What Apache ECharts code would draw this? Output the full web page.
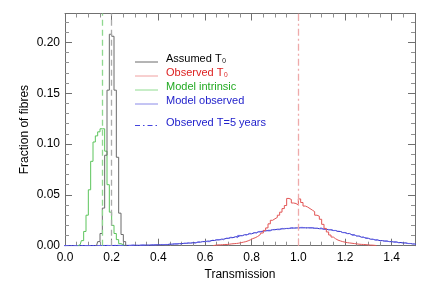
<!DOCTYPE html>
<html><head><meta charset="utf-8">
<script src="https://cdn.jsdelivr.net/npm/echarts@6/dist/echarts.min.js"></script>
<style>html,body{margin:0;padding:0;background:#fff}#c{width:436px;height:290px}</style>
</head><body><div id="c"></div>
<script>
// ---- data ----
const binW = 0.01;
const blackStart = 0.14;
const blackVals = [0.004,0.012,0.037,0.089,0.153,0.208,0.206,0.153,0.087,0.032,0.011,0.004];
const greenStart = 0.06;
const greenVals = [0.001,0.005,0.014,0.030,0.055,0.083,0.102,0.108,0.112,0.115,0.115,0.093,0.060,0.033,0.020,0.012,0.006,0.002,0.001];
const redStart = 0.64;
const redVals = [0.0005,0.0008,0.0008,0.0010,0.0012,0.0012,0.0015,0.0018,0.0020,0.0022,
  0.0025,0.0030,0.0035,0.0040,0.0048,0.0058,0.0070,0.0078,0.0090,0.0105,
  0.0125,0.0150,0.0175,0.0215,0.0250,0.0265,0.0278,0.0300,0.0330,0.0365,
  0.0395,0.0465,0.0455,0.0420,0.0415,0.0400,0.0460,0.0425,0.0390,0.0380,
  0.0365,0.0350,0.0335,0.0300,0.0290,0.0260,0.0210,0.0170,0.0135,0.0105,
  0.0085,0.0068,0.0055,0.0047,0.0040,0.0035,0.0030,0.0027,0.0024,0.0021,
  0.0018,0.0015,0.0013,0.0012,0.0010,0.0008,0.0006,0.0005,0.0003];
const blueW = 0.02;
const blueStart = 0.0;
const modelObsVals = [0.0000,0.0000,0.0000,0.0001,0.0001,0.0001,0.0001,0.0002,0.0002,0.0002,
  0.0002,0.0003,0.0003,0.0003,0.0004,0.0004,0.0005,0.0006,0.0007,0.0009,
  0.0010,0.0012,0.0015,0.0017,0.0020,0.0023,0.0026,0.0030,0.0035,0.0040,
  0.0045,0.0051,0.0057,0.0064,0.0071,0.0079,0.0088,0.0098,0.0108,0.0117,
  0.0127,0.0136,0.0145,0.0151,0.0157,0.0162,0.0166,0.0170,0.0173,0.0175,
  0.0176,0.0176,0.0175,0.0172,0.0167,0.0162,0.0156,0.0149,0.0140,0.0130,
  0.0119,0.0107,0.0095,0.0084,0.0073,0.0064,0.0056,0.0050,0.0045,0.0040,
  0.0036,0.0031,0.0027,0.0022,0.0017];
const obsT5Vals = [0.0000,0.0001,0.0000,0.0002,0.0000,0.0001,0.0002,0.0001,0.0003,0.0002,
  0.0004,0.0002,0.0004,0.0003,0.0006,0.0004,0.0007,0.0005,0.0009,0.0008,
  0.0012,0.0010,0.0016,0.0019,0.0017,0.0024,0.0028,0.0026,0.0036,0.0042,
  0.0040,0.0055,0.0060,0.0058,0.0074,0.0083,0.0080,0.0101,0.0106,0.0121,
  0.0125,0.0140,0.0150,0.0146,0.0160,0.0158,0.0171,0.0168,0.0177,0.0172,
  0.0180,0.0174,0.0178,0.0170,0.0173,0.0163,0.0160,0.0150,0.0143,0.0128,
  0.0121,0.0104,0.0097,0.0082,0.0076,0.0062,0.0058,0.0048,0.0046,0.0039,
  0.0037,0.0029,0.0028,0.0021,0.0018];
const greenDashX = 0.164;
const greyDashX = 0.20;
const redDashDotX = 1.0;
const xRange = [0, 1.5];
const yRange = [0, 0.2284];
const xTickInterval = 0.2;
const yTickInterval = 0.05;
const seriesNames = ['Assumed T\u2080','Observed T\u2080','Model intrinsic','Model observed','Observed T=5 years'];
const xTitle = 'Transmission';
const yTitle = 'Fraction of fibres';

// ---- build ----
function hist(start, w, vals){
  const d = [[start - w/2, 0]];
  vals.forEach((v,i)=>d.push([start + w*(i+0.5), v]));
  d.push([start + w*(vals.length+0.5), 0]);
  return d;
}
const FONT = 'Liberation Sans, Arial, Helvetica, sans-serif';
const C = {black:'#6a6a6a', red:'#e25555', green:'#5cc45c', blueA:'#3030c8', blueB:'#6a6ae8'};
const ch = echarts.init(document.getElementById('c'), null, {renderer:'canvas'});
const axCommon = {
  type:'value', axisLine:{show:true, onZero:false, lineStyle:{color:'#707070', width:1}},
  splitLine:{show:false}, axisTick:{inside:true, length:7, lineStyle:{color:'#707070'}},
  minorTick:{show:true, length:4, lineStyle:{color:'#909090'}}
};
const ml = (x, color, type) => ({symbol:'none', silent:true, label:{show:false}, animation:false,
  lineStyle:{color, width:1.3, type}, data:[{xAxis:x}]});

// legend (drawn as graphic: sample line + text)
const legendRows = [
  {name:seriesNames[0], line:'#6a6a6a', text:'#000000', dash:null, y:59},
  {name:seriesNames[1], line:'#f0a0a0', text:'#dd2222', dash:null, y:73},
  {name:seriesNames[2], line:'#90dc90', text:'#22aa22', dash:null, y:87},
  {name:seriesNames[3], line:'#8a8ae8', text:'#2222cc', dash:null, y:101},
  {name:seriesNames[4], line:'#4545dd', text:'#2222cc', dash:[5,3,1.5,3], y:122.5}
];
const graphic = [];
legendRows.forEach(r=>{
  graphic.push({type:'line', shape:{x1:135, y1:r.y+3, x2:158, y2:r.y+3},
    style:{stroke:r.line, lineWidth:1, lineDash:r.dash||null}, silent:true});
  graphic.push({type:'text', x:166, y:r.y, style:{text:r.name, fill:r.text, font:'11px '+FONT,
    textVerticalAlign:'middle', verticalAlign:'middle'}, silent:true});
});
graphic.push({type:'text', x:25, y:129.6, rotation:Math.PI/2, silent:true,
  style:{text:yTitle, fill:'#000', font:'12px '+FONT, align:'center', verticalAlign:'middle',
    textAlign:'center', textVerticalAlign:'middle'}});

ch.setOption({
  animation:false,
  textStyle:{fontFamily:FONT},
  grid:{left:65, right:21, top:13.5, bottom:44.3},
  graphic: graphic,
  xAxis:[
    Object.assign({}, axCommon, {min:xRange[0], max:xRange[1], interval:xTickInterval, position:'bottom',
      minorTick:Object.assign({}, axCommon.minorTick, {splitNumber:4}),
      axisLabel:{color:'#000', fontSize:12, margin:6, showMaxLabel:false, formatter:v=>v.toFixed(1)},
      name:xTitle, nameLocation:'middle', nameGap:20, nameTextStyle:{color:'#000', fontSize:12}}),
    Object.assign({}, axCommon, {min:xRange[0], max:xRange[1], interval:xTickInterval, position:'top',
      minorTick:Object.assign({}, axCommon.minorTick, {splitNumber:4}), axisLabel:{show:false}})
  ],
  yAxis:[
    Object.assign({}, axCommon, {min:yRange[0], max:yRange[1], interval:yTickInterval, position:'left',
      minorTick:Object.assign({}, axCommon.minorTick, {splitNumber:5}),
      axisLabel:{color:'#000', fontSize:12, margin:5, showMaxLabel:false, formatter:v=>v.toFixed(2)}}),
    Object.assign({}, axCommon, {min:yRange[0], max:yRange[1], interval:yTickInterval, position:'right',
      minorTick:Object.assign({}, axCommon.minorTick, {splitNumber:5}), axisLabel:{show:false}})
  ],
  series:[
    {name:seriesNames[3], type:'line', step:'middle', showSymbol:false, symbol:'none', data:hist(blueStart, blueW, modelObsVals),
     lineStyle:{color:C.blueA, width:1}, itemStyle:{color:C.blueA}},
    {name:seriesNames[4], type:'line', step:'middle', showSymbol:false, symbol:'none', data:hist(blueStart, blueW, obsT5Vals),
     lineStyle:{color:C.blueB, width:1, type:[6,2,1,2]}, itemStyle:{color:C.blueB}},
    {name:seriesNames[1], type:'line', step:'middle', showSymbol:false, symbol:'none', data:hist(redStart, binW, redVals),
     lineStyle:{color:C.red, width:1}, itemStyle:{color:C.red},
     markLine:ml(redDashDotX, '#eeaaaa', [7,3,2,3])},
    {name:seriesNames[2], type:'line', step:'middle', showSymbol:false, symbol:'none', data:hist(greenStart, binW, greenVals),
     lineStyle:{color:C.green, width:1}, itemStyle:{color:C.green},
     markLine:ml(greenDashX, '#8fd88f', [6,4])},
    {name:seriesNames[0], type:'line', step:'middle', showSymbol:false, symbol:'none', data:hist(blackStart, binW, blackVals),
     lineStyle:{color:C.black, width:1}, itemStyle:{color:C.black},
     markLine:ml(greyDashX, '#aaaaaa', [6,4])}
  ]
});
</script></body></html>
